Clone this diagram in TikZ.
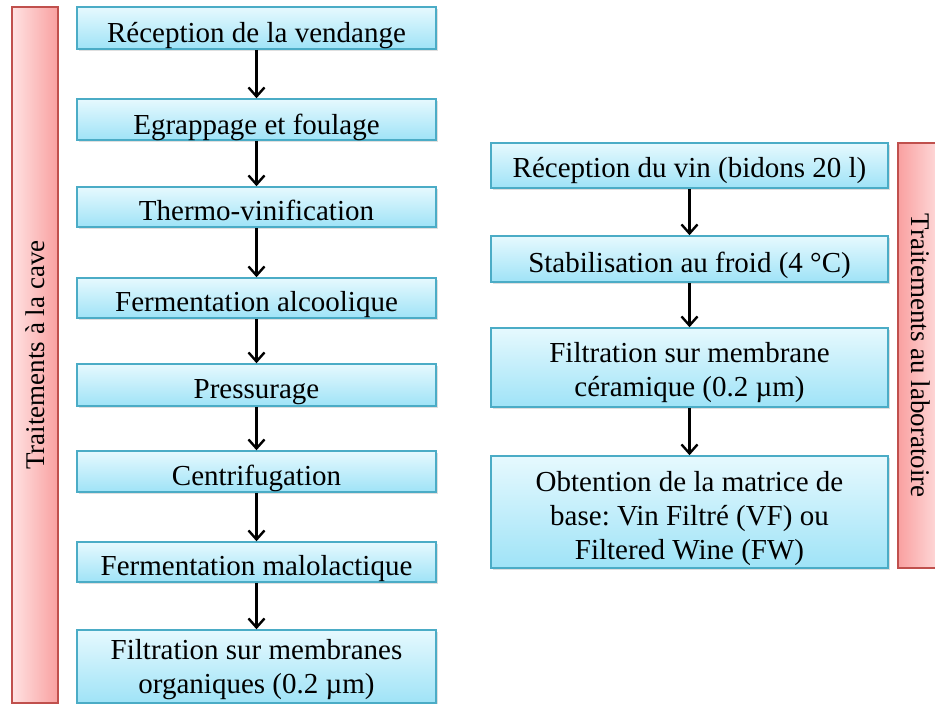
\documentclass[tikz,border=0pt]{standalone}
\usepackage{fontspec}
\usepackage{graphicx}
\setmainfont{Liberation Serif}
\frenchspacing
\usetikzlibrary{arrows.meta,shadows}

\definecolor{boxtop}{HTML}{E6F9FE}
\definecolor{boxbot}{HTML}{9FE3F7}
\definecolor{boxline}{HTML}{4BACC6}
\definecolor{barlight}{HTML}{FFE2E2}
\definecolor{bardark}{HTML}{F9A0A0}
\definecolor{barline}{HTML}{C0504D}

\tikzset{
    stage/.style={draw=boxline, line width=1.5pt, top color=boxtop,
        bottom color=boxbot, minimum width=359pt, inner xsep=2pt, inner ysep=0pt,
        align=center, font=\fontsize{29}{34}\selectfont,
        drop shadow={shadow xshift=1.5pt, shadow yshift=-1.5pt, opacity=0.25}},
    labstage/.style={stage, minimum width=397pt},
    side/.style={draw=barline, line width=1.2pt, minimum width=46pt, inner sep=0pt,
        font=\fontsize{27}{32}\selectfont},
    flow/.style={line width=2.4pt, -{Straight Barb[length=9pt,width=16pt,line width=2.4pt]}}
}

\begin{document}
\begin{tikzpicture}[x=1pt, y=-1pt]
                    \useasboundingbox (0, 0) rectangle (935, 704);
                    % Side labels
                    \node[side, minimum height=696pt, left color=barlight, right color=bardark] (cave) at (35, 355) {\rotatebox{90}{Traitements à la cave}};
                    \node[side, minimum height=425pt, left color=bardark, right color=barlight] (labo) at (921, 355.5) {\rotatebox{-90}{Traitements au laboratoire}};
                    % Cellar steps
                    \node[stage, minimum height=42pt, text height=35pt, text depth=7pt] (s1) at (256.5, 28) {Réception de la vendange};
                    \node[stage, minimum height=41pt, text height=35pt, text depth=6pt] (s2) at (256.5, 119.5) {Egrappage et foulage};
                    \node[stage, minimum height=40pt, text height=33pt, text depth=7pt] (s3) at (256.5, 207) {Thermo-vinification};
                    \node[stage, minimum height=40pt, text height=33pt, text depth=7pt] (s4) at (256.5, 298) {Fermentation alcoolique};
                    \node[stage, minimum height=42pt, text height=34pt, text depth=8pt] (s5) at (256.5, 385) {Pressurage};
                    \node[stage, minimum height=41pt, text height=34pt, text depth=7pt] (s6) at (256.5, 471.5) {Centrifugation};
                    \node[stage, minimum height=40pt, text height=33pt, text depth=7pt] (s7) at (256.5, 562) {Fermentation malolactique};
                    \node[stage, minimum height=73pt, text height=63pt, text depth=10pt] (s8) at (256.5, 666.5) {Filtration sur membranes\\organiques (0.2 µm)};
                    % Lab steps
                    \node[labstage, minimum height=45pt, text height=34pt, text depth=11pt] (l1) at (689.5, 165.5) {Réception du vin (bidons 20 l)};
                    \node[labstage, minimum height=46pt, text height=36pt, text depth=10pt] (l2) at (689.5, 259) {Stabilisation au froid (4 °C)};
                    \node[labstage, minimum height=79pt, text height=68pt, text depth=11pt] (l3) at (689.5, 367.5) {Filtration sur membrane\\céramique (0.2 µm)};
                    \node[labstage, minimum height=112pt, text height=103pt, text depth=9pt] (l4) at (689.5, 512) {Obtention de la matrice de\\base: Vin Filtré (VF) ou\\Filtered Wine (FW)};
                    % Arrows
                    \draw[flow] (s1) -- (s2);
                    \draw[flow] (s2) -- (s3);
                    \draw[flow] (s3) -- (s4);
                    \draw[flow] (s4) -- (s5);
                    \draw[flow] (s5) -- (s6);
                    \draw[flow] (s6) -- (s7);
                    \draw[flow] (s7) -- (s8);
                    \draw[flow] (l1) -- (l2);
                    \draw[flow] (l2) -- (l3);
                    \draw[flow] (l3) -- (l4);
                \end{tikzpicture}
\end{document}
